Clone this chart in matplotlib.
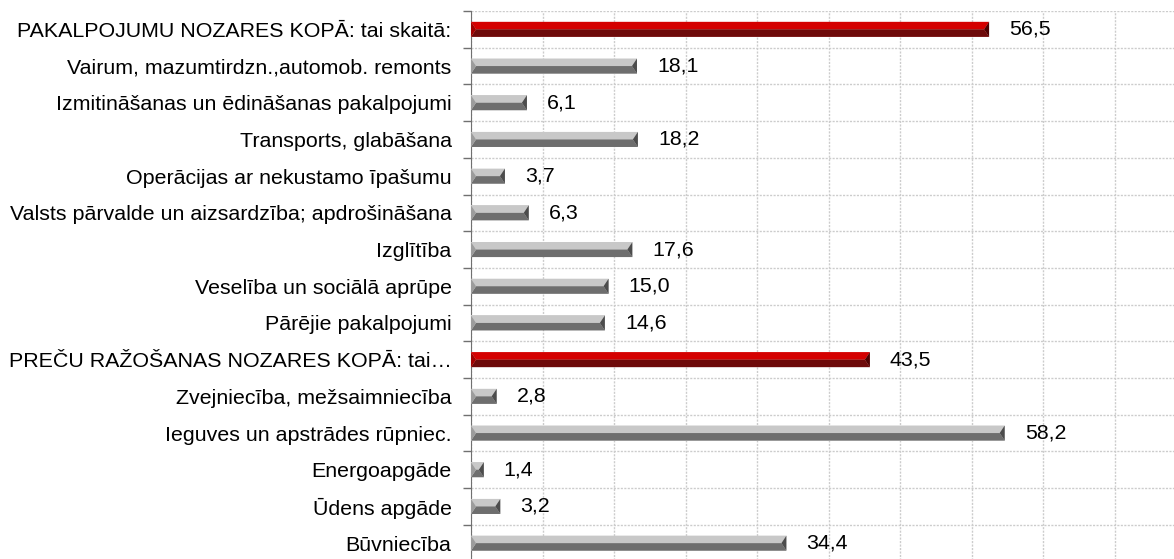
import numpy as np
import matplotlib
matplotlib.use("Agg")
import matplotlib.pyplot as plt
from matplotlib.patches import Polygon

plt.rcParams['font.family'] = ['Liberation Sans', 'DejaVu Sans']

labels = [
    "PAKALPOJUMU NOZARES KOPĀ: tai skaitā:",
    "Vairum, mazumtirdzn.,automob. remonts",
    "Izmitināšanas un ēdināšanas pakalpojumi",
    "Transports, glabāšana",
    "Operācijas ar nekustamo īpašumu",
    "Valsts pārvalde un aizsardzība; apdrošināšana",
    "Izglītība",
    "Veselība un sociālā aprūpe",
    "Pārējie pakalpojumi",
    "PREČU RAŽOŠANAS NOZARES KOPĀ: tai…",
    "Zvejniecība, mežsaimniecība",
    "Ieguves un apstrādes rūpniec.",
    "Energoapgāde",
    "Ūdens apgāde",
    "Būvniecība",
]
values = [56.5, 18.1, 6.1, 18.2, 3.7, 6.3, 17.6, 15.0, 14.6,
          43.5, 2.8, 58.2, 1.4, 3.2, 34.4]
is_total = [True, False, False, False, False, False, False, False, False,
            True, False, False, False, False, False]

# colours: outline, top, bottom, left cap, right cap
red_style = ("#f2a0a0", "#d40000", "#6e0a0a", "#a00000", "#4e0000")
grey_style = ("#d8d8d8", "#c8c8c8", "#6e6e6e", "#9c9c9c", "#4c4c4c")

fig = plt.figure(figsize=(11.74, 5.59), dpi=100)
ax = fig.add_axes([471 / 1174, (559 - 561.5) / 559, 1 - 471 / 1174, 550.5 / 559])

xmax = (1174 - 471) / 9.17
ax.set_xlim(0, xmax)
ax.set_ylim(len(values) - 0.5, -0.5)

h = 0.41
bev = 0.55
for i, v in enumerate(values):
    edge, top, bot, lcap, rcap = red_style if is_total[i] else grey_style
    y0, y1, ym = i - h / 2, i + h / 2, i
    b = min(bev, v / 2)
    ax.add_patch(Polygon([(0, y0), (v, y0), (v, y1), (0, y1)],
                         closed=True, fc=edge, ec="none", zorder=3))
    ax.add_patch(Polygon([(0, y0), (v, y0), (v - b, ym), (b, ym)],
                         closed=True, fc=top, ec="none", zorder=4))
    ax.add_patch(Polygon([(b, ym), (v - b, ym), (v, y1), (0, y1)],
                         closed=True, fc=bot, ec="none", zorder=4))
    ax.add_patch(Polygon([(0, y0), (b, ym), (0, y1)],
                         closed=True, fc=lcap, ec="none", zorder=5))
    ax.add_patch(Polygon([(v, y0), (v, y1), (v - b, ym)],
                         closed=True, fc=rcap, ec="none", zorder=5))
    ax.annotate(f"{v:.1f}".replace(".", ","), xy=(v, i), xytext=(20, 0),
                textcoords="offset pixels", va="center", ha="left",
                fontsize=15.4, color="black")

ax.set_yticks(range(len(labels)))
ax.set_yticklabels(labels, fontsize=15.4)
ax.tick_params(axis="y", which="major", length=0, pad=14)
ax.set_yticks(np.arange(-0.5, len(values)), minor=True)
ax.tick_params(axis="y", which="minor", length=6, width=1, color="#707070")
ax.set_xticks(np.arange(0, xmax, 7.8))
ax.tick_params(axis="x", length=0, labelbottom=False)

ax.grid(axis="x", which="major", color="#cccccc", linestyle=(0, (1.5, 1)), lw=1)
ax.grid(axis="y", which="minor", color="#cccccc", linestyle=(0, (1.5, 1)), lw=1)
ax.set_axisbelow(True)

for s in ("top", "right", "bottom"):
    ax.spines[s].set_visible(False)
ax.spines["left"].set_color("#707070")

fig.savefig("out.png", dpi=100)
